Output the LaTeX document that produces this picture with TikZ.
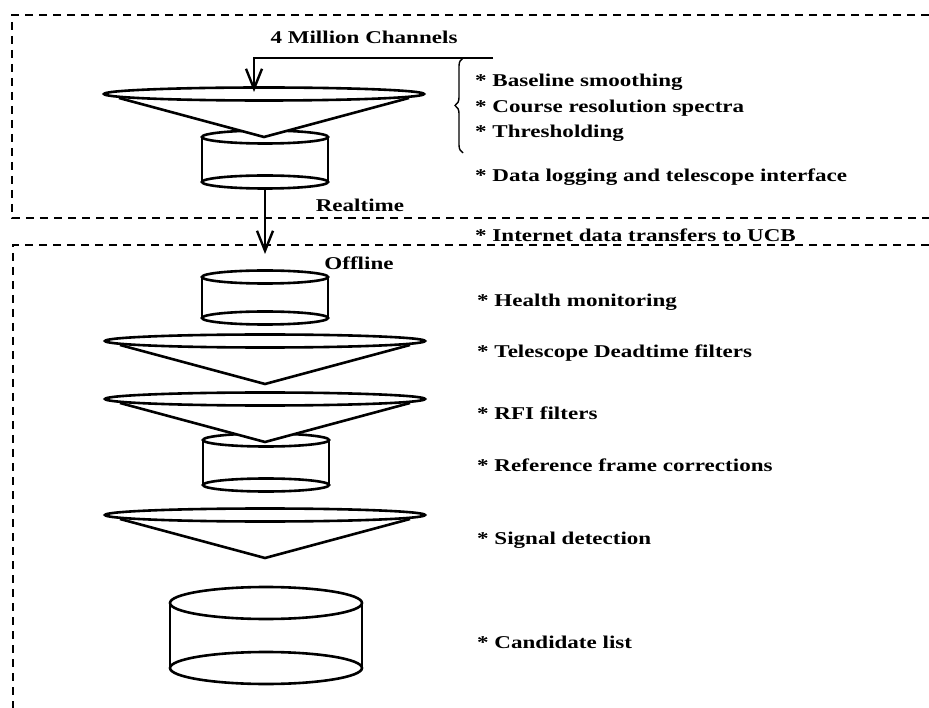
\documentclass[tikz,border=0pt]{standalone}
\usepackage{fontspec}
\setmainfont{Liberation Serif}
\newfontfamily\figfont[FakeStretch=1.28]{Liberation Serif}
\usetikzlibrary{arrows.meta,decorations.pathreplacing}
\tikzset{
  boxline/.style={dash pattern=on 8pt off 6pt, line width=2pt},
  item/.style={anchor=west, inner sep=0pt, font=\figfont\bfseries\fontsize{18}{20}\selectfont},
  tag/.style={inner sep=0pt, font=\figfont\bfseries\fontsize{18}{20}\selectfont},
  flow/.style={line width=2.4pt, -{Straight Barb[length=20pt,width=16pt,line width=2.4pt]}},
  pics/cone/.style={code={
    \draw[line width=2.6pt, fill=white] (-145,4) -- (0,43) -- (145,4);
    \draw[line width=2.6pt, fill=white] (0,0) ellipse [x radius=160pt, y radius=6.5pt];
  }},
  pics/drum/.style n args={3}{code={
    \draw[line width=2.6pt] (-#1,0) -- (-#1,#3) (#1,0) -- (#1,#3);
    \draw[line width=2.6pt] (0,0) ellipse [x radius=#1pt, y radius=#2pt];
    \draw[line width=2.6pt] (0,#3) ellipse [x radius=#1pt, y radius=#2pt];
  }}
}
\begin{document}
\begin{tikzpicture}[x=1pt, y=-1pt]
  \useasboundingbox (0,0) rectangle (929,708);

  % realtime part
  \draw[boxline] (929,15) -- (12,15) -- (12,218) -- (929,218);
  \node[tag] (chan) at (364,37) {4 Million Channels};
  \pic at (265,137) {drum={63}{6.5}{45}};
  \pic at (264,94) {cone};
  \coordinate (feed) at (493,58);
  \coordinate (feedin) at (254,92);
  \draw[flow] (feed) -| (feedin);
  \coordinate (bracetop) at (463,58);
  \coordinate (bracebot) at (463,153);
  \draw[line width=1.4pt, decorate, decoration={brace, amplitude=8pt}] (bracebot) -- (bracetop);
  \node[item] (smooth) at (475,82) {* Baseline smoothing};
  \node[item] (spectra) at (475,108) {* Course resolution spectra};
  \node[item] (thresh) at (475,133) {* Thresholding};
  \node[item] (logging) at (475,177) {* Data logging and telescope interface};
  \node[tag] (real) at (360,205) {Realtime};

  % offline part
  \draw[boxline] (929,245) -- (13,245) -- (13,708);
  \coordinate (rtout) at (265,190);
  \coordinate (offin) at (265,254);
  \draw[flow] (rtout) -- (offin);
  \node[item] (inet) at (475,235) {* Internet data transfers to UCB};
  \node[tag] (off) at (359,263) {Offline};

  \pic at (265,277) {drum={63}{6.5}{41}};
  \pic at (265,341) {cone};
  \pic at (266,440) {drum={63}{6.5}{45}};
  \pic at (265,399) {cone};
  \pic at (265,515) {cone};
  \pic at (266,603) {drum={96}{16}{65}};

  \node[item] (health) at (477,302) {* Health monitoring};
  \node[item] (dead) at (477,353) {* Telescope Deadtime filters};
  \node[item] (rfi) at (477,413) {* RFI filters};
  \node[item] (frame) at (477,465) {* Reference frame corrections};
  \node[item] (signal) at (477,540) {* Signal detection};
  \node[item] (cand) at (477,642) {* Candidate list};
\end{tikzpicture}
\end{document}
